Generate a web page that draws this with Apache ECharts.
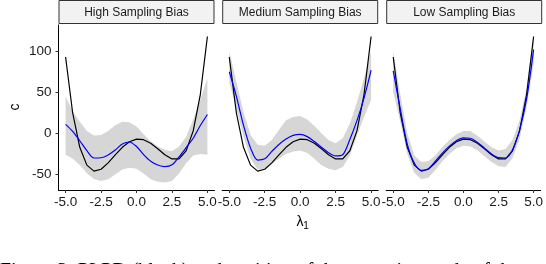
<!DOCTYPE html>
<html>
<head>
<meta charset="utf-8">
<script src="https://cdn.jsdelivr.net/npm/echarts@6/dist/echarts.min.js"></script>
<style>
html,body{margin:0;padding:0;background:#fff;}
#chart{width:546px;height:264px;}
</style>
</head>
<body>
<div id="chart"></div>
<script>
// ---- data ----
const lambda = [-5,-4.5,-4,-3.5,-3,-2.5,-2,-1.5,-1,-0.5,0,0.5,1,1.5,2,2.5,3,3.5,4,4.5,5];
const panelTitles = ["High Sampling Bias","Medium Sampling Bias","Low Sampling Bias"];
const xTicks = [-5,-2.5,0,2.5,5];
const yTicks = [-50,0,50,100];

// true function (black), identical in every panel
const truthC = [93,24.8,-17,-38.7,-46,-43.7,-36,-26.2,-17,-10.2,-7,-7.7,-12,-18.7,-26,-31.2,-31,-21.2,3,47.3,118];

// posterior mean (blue)
const meanHigh   = [11,2.5,-9,-21,-30,-29.7,-26.3,-20.3,-13,-10.5,-16,-25.9,-34,-38.6,-40.5,-38.3,-28.6,-17.4,-6,9.5,23];
const meanMedium = [75,45,10,-18,-32.5,-31,-22,-13.5,-7,-2.5,-1.3,-4,-10,-17,-23.5,-27.5,-26,-7.5,15.5,43,77];
const meanLow    = [76,30,-13,-36,-45,-43,-34,-24,-15.5,-9,-5.5,-6,-11,-18,-25,-29.5,-30,-20,4,42,102];

// credible band (grey)
const lowerHigh   = [-26,-31,-38.5,-48.5,-55.5,-58,-56,-50,-44,-42,-43,-49,-56,-59,-60,-58,-49,-36.5,-27,-25,-26];
const upperHigh   = [45,27,14,3,-2.5,-2,3,10,14,13.5,8.5,-1,-9.5,-16,-20,-21.8,-16,-4,17,41,67];
const lowerMedium = [62,30,-4,-31,-44,-43,-37,-31,-25,-22,-21,-24,-31,-39,-43,-45,-41,-27,-3,20,41];
const upperMedium = [100,63,26,-2,-14,-15,-8,4,16,20,21,17,9,0,-8,-12,-6,12,38,67,100];
const lowerLow    = [50,14,-25,-48,-56,-54,-45,-34,-25,-18,-15,-16,-21,-28,-35,-40,-41,-30,-7,32,84];
const upperLow    = [101,48,0,-27,-35,-34,-27,-17,-8,-1,3,3,-3,-10,-17,-21,-19,-8,16,56,120];

const means = [meanHigh, meanMedium, meanLow];
const lowers = [lowerHigh, lowerMedium, lowerLow];
const uppers = [upperHigh, upperMedium, upperLow];

// ---- layout ----
const FONT = 'Liberation Sans';
const panelLeft = [58.5, 222.2, 386.2];
const panelW = 156, panelTop = 25, panelH = 165;

const chart = echarts.init(document.getElementById('chart'), null, {renderer:'canvas'});

const grid = [], xAxis = [], yAxis = [], series = [], graphic = [];
panelLeft.forEach((L, i) => {
  grid.push({left: L, top: panelTop, width: panelW, height: panelH, containLabel: false});
  xAxis.push({
    type: 'value', gridIndex: i, min: -5.5, max: 5.5,
    axisLine: {show: true, onZero: false, lineStyle: {color: '#000', width: 1}},
    axisTick: {show: true, length: 3, customValues: xTicks, lineStyle: {color: '#333', width: 1}},
    axisLabel: {show: true, customValues: xTicks, formatter: v => Number(v).toFixed(1),
      color: '#1a1a1a', fontSize: 13.5, margin: 5, fontFamily: FONT},
    splitLine: {show: false}
  });
  yAxis.push({
    type: 'value', gridIndex: i, min: -69, max: 132,
    show: i === 0,
    axisLine: {show: true, onZero: false, lineStyle: {color: '#000', width: 1}},
    axisTick: {show: true, length: 3, customValues: yTicks, lineStyle: {color: '#333', width: 1}},
    axisLabel: {show: true, customValues: yTicks, color: '#1a1a1a', fontSize: 13.5, margin: 7, fontFamily: FONT},
    splitLine: {show: false}
  });
  const lo = lowers[i], up = uppers[i];
  series.push({
    type: 'custom', xAxisIndex: i, yAxisIndex: i, clip: true, silent: true, z: 1,
    data: [[0, 0]],
    renderItem: (params, api) => {
      const pts = [];
      for (let j = 0; j < lambda.length; j++) pts.push(api.coord([lambda[j], up[j]]));
      for (let j = lambda.length - 1; j >= 0; j--) pts.push(api.coord([lambda[j], lo[j]]));
      return {type: 'polygon', shape: {points: pts}, style: {fill: '#D6D6D6', stroke: null}};
    }
  });
  series.push({
    type: 'line', xAxisIndex: i, yAxisIndex: i,
    data: lambda.map((x, j) => [x, truthC[j]]), symbol: 'none', smooth: false,
    lineStyle: {color: '#000', width: 1.2}, z: 3
  });
  series.push({
    type: 'line', xAxisIndex: i, yAxisIndex: i,
    data: lambda.map((x, j) => [x, means[i][j]]), symbol: 'none', smooth: 0.3,
    lineStyle: {color: '#0000FF', width: 1.2}, z: 4
  });
  // facet strip
  graphic.push({type: 'rect', shape: {x: L + 0.5, y: 0.5, width: panelW - 1, height: 23},
    style: {fill: '#F2F2F2', stroke: '#333', lineWidth: 1}, z: 10});
  graphic.push({type: 'text', x: L + panelW / 2, y: 12.5, z: 11,
    style: {text: panelTitles[i], fill: '#1a1a1a', font: '12px ' + FONT, align: 'center', verticalAlign: 'middle'}});
});

graphic.push({type: 'text', x: 15, y: 107, rotation: Math.PI / 2,
  style: {text: 'c', fill: '#000', font: '14px ' + FONT, align: 'center', verticalAlign: 'middle'}});
graphic.push({type: 'text', x: 300, y: 222,
  style: {text: 'λ', fill: '#000', font: '14px ' + FONT, align: 'center', verticalAlign: 'middle'}});
graphic.push({type: 'text', x: 306, y: 226,
  style: {text: '1', fill: '#000', font: '10px ' + FONT, align: 'center', verticalAlign: 'middle'}});
graphic.push({type: 'text', x: 0, y: 262,
  style: {text: 'Figure 3: PLPD (black) and position of the posterior mode of the', fill: '#000',
    font: '20px Liberation Serif', align: 'left', verticalAlign: 'top'}});

chart.setOption({
  animation: false,
  backgroundColor: '#fff',
  grid, xAxis, yAxis, series, graphic
});
</script>
</body>
</html>
